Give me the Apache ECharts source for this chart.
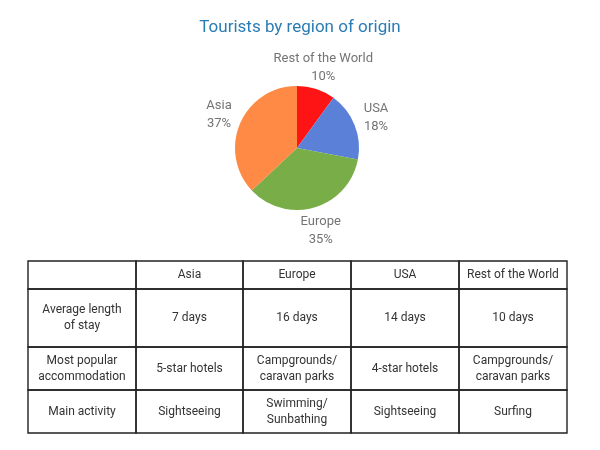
<!DOCTYPE html>
<html><head><meta charset="utf-8">
<script src="https://cdn.jsdelivr.net/npm/echarts@6/dist/echarts.min.js"></script>
<style>html,body{margin:0;padding:0;background:#fff}#c{width:600px;height:450px}</style>
</head><body><div id="c"></div>
<script>
var regions = ['Rest of the World', 'USA', 'Europe', 'Asia'];
var shares = [10, 18, 35, 37];
var sliceColors = ['#fe1414', '#5a80d8', '#78ad48', '#fe8a46'];

var tableColumns = ['', 'Asia', 'Europe', 'USA', 'Rest of the World'];
var rowLabels = ['Average length\nof stay', 'Most popular\naccommodation', 'Main activity'];
var stayDays = ['7 days', '16 days', '14 days', '10 days'];
var accommodation = ['5-star hotels', 'Campgrounds/\ncaravan parks', '4-star hotels', 'Campgrounds/\ncaravan parks'];
var mainActivity = ['Sightseeing', 'Swimming/\nSunbathing', 'Sightseeing', 'Surfing'];

var chart = echarts.init(document.getElementById('c'));
var pieData = regions.map(function (r, i) { return { name: r, value: shares[i], itemStyle: { color: sliceColors[i] } }; });

// table layout
var colX = [28, 136, 243, 351, 459, 567];
var rowY = [261, 289, 347, 390, 433];
var tableRows = [tableColumns].concat(rowLabels.map(function (lab, r) {
  var vals = [stayDays, accommodation, mainActivity][r];
  return [lab].concat(vals);
}));
var graphics = [];
tableRows.forEach(function (row, r) {
  row.forEach(function (txt, c) {
    graphics.push({
      type: 'rect',
      shape: { x: colX[c], y: rowY[r], width: colX[c + 1] - colX[c], height: rowY[r + 1] - rowY[r] },
      style: { fill: 'none', stroke: '#222', lineWidth: 1.4 },
      silent: true
    });
    if (txt) {
      graphics.push({
        type: 'text',
        x: (colX[c] + colX[c + 1]) / 2,
        y: (rowY[r] + rowY[r + 1]) / 2,
        style: { text: txt, fill: '#333', font: '12px Roboto', align: 'center', verticalAlign: 'middle', lineHeight: 16 },
        silent: true
      });
    }
  });
});

chart.setOption({
  backgroundColor: '#fff',
  title: {
    text: 'Tourists by region of origin', left: 'center', top: 14,
    textStyle: { color: '#2b7cb3', fontSize: 17, fontWeight: 'normal', fontFamily: 'Roboto' }
  },
  series: [
    {
      type: 'pie', center: [297, 148], radius: [0, 62], startAngle: 90, clockwise: true,
      data: pieData, label: { show: false }, labelLine: { show: false }, silent: true, animation: false
    },
    {
      type: 'pie', center: [297, 149], radius: [76, 88], startAngle: 90, clockwise: true, silent: true, animation: false,
      data: pieData.map(function (d) { return { name: d.name, value: d.value, itemStyle: { color: 'rgba(0,0,0,0)' } }; }),
      label: {
        show: true, position: 'inside', formatter: '{b}\n{c}%', color: '#747474',
        fontSize: 13, fontFamily: 'Roboto', lineHeight: 18, rotate: 0
      },
      labelLine: { show: false }
    }
  ],
  graphic: graphics
});
</script></body></html>
